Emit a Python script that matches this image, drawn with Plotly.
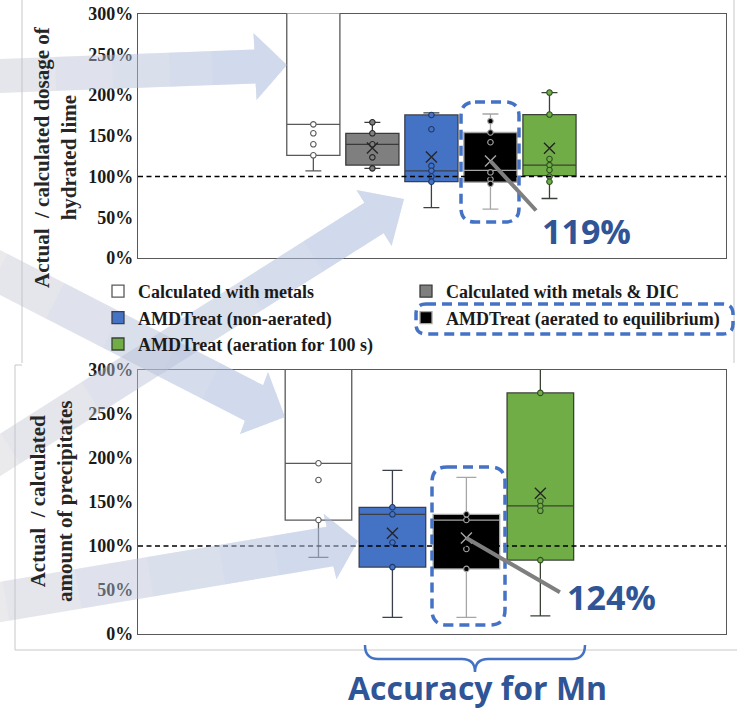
import math
import plotly.graph_objects as go

# ---------------------------------------------------------------- canvas
FIG_W, FIG_H = 737, 710
M_L, M_R = 138, 11
PLOT_W = FIG_W - M_L - M_R


def px(x):
    return (x - M_L) / PLOT_W


def py(y):
    return 1 - y / FIG_H


def pt(x, y):
    return f"{px(x):.5f},{py(y):.5f}"


# ---------------------------------------------------------------- data
series = [
    "Calculated with metals",
    "Calculated with metals & DIC",
    "AMDTreat (non-aerated)",
    "AMDTreat (aerated to equilibrium)",
    "AMDTreat (aeration for 100 s)",
]
fills = ["#ffffff", "#7f7f7f", "#4472c4", "#000000", "#70ad47"]
edges = ["#595959", "#3a3a3a", "#3a3f4a", "#a6a6a6", "#3a4236"]
point_edges = ["#595959", "#262626", "#1f3864", "#a6a6a6", "#2f4f22"]
mean_colors = ["#262626", "#262626", "#262626", "#a6a6a6", "#262626"]
legend_of = ["legend", "legend2", "legend", "legend2", "legend"]

# actual / calculated dosage of hydrated lime (%)
lime_q1 = [126, 114, 93.6, 93, 101]
lime_median = [164, 139.5, 107, 107.5, 114]
lime_q3 = [330, 153, 175.5, 154, 176]
lime_low = [107, 110, 61.7, 60, 73]
lime_high = [360, 166.5, 178, 176.7, 203]
lime_mean = [None, 135, 124, 119, 134.6]
lime_points = [
    [164, 153, 139.5, 126],
    [166.5, 153, 139.5, 123.5, 110],
    [175.5, 158, 113, 107, 100, 93.6],
    [168, 154, 142, 105, 96.5, 91],
    [203, 176, 121.5, 114, 108, 100, 93.6],
]

# actual / calculated amount of precipitates (%)
prec_series = [0, 2, 3, 4]
prec_q1 = [129.5, 76, 74, 84]
prec_median = [194, 136, 129.5, 145.5]
prec_q3 = [330, 144, 136, 274]
prec_low = [87, 19, 19, 20.5]
prec_high = [360, 186, 178, 340]
prec_mean = [None, 114.4, 109, 160]
prec_points = [
    [194, 175, 129.5],
    [144, 136, 104, 76],
    [136, 129.5, 96.6, 74],
    [274, 151, 145.5, 140, 84],
]

callout_values = [119, 124]
y_ticks = [0, 50, 100, 150, 200, 250, 300]
y_tick_text = [f"{v}%" for v in y_ticks]
reference_ratio = 100

SERIF = "Liberation Serif"
SANS = "Open Sans"
HILITE = "#2f5597"
DASHBLUE = "#4472c4"

fig = go.Figure()


def add_panel(idx_list, q1, med, q3, lo, hi, mean, points, xa, ya, legend):
    for pos, s in enumerate(idx_list):
        fig.add_trace(go.Box(
            x=[pos], q1=[q1[pos]], median=[med[pos]], q3=[q3[pos]],
            lowerfence=[lo[pos]], upperfence=[hi[pos]],
            width=0.9, whiskerwidth=0.3,
            fillcolor=fills[s], line=dict(color=edges[s], width=1.3),
            name=series[s], showlegend=legend,
            legend=legend_of[s], xaxis=xa, yaxis=ya, hoverinfo="skip",
        ))
    for pos, s in enumerate(idx_list):
        pts = points[pos]
        fig.add_trace(go.Scatter(
            x=[pos] * len(pts), y=pts, mode="markers",
            marker=dict(symbol="circle", size=5.5, color=fills[s],
                        line=dict(color=point_edges[s], width=1.1)),
            showlegend=False, xaxis=xa, yaxis=ya, hoverinfo="skip",
        ))
        if mean[pos] is not None:
            fig.add_trace(go.Scatter(
                x=[pos], y=[mean[pos]], mode="markers",
                marker=dict(symbol="x-thin", size=11,
                            line=dict(color=mean_colors[s], width=1.4)),
                showlegend=False, xaxis=xa, yaxis=ya, hoverinfo="skip",
            ))


add_panel(list(range(5)), lime_q1, lime_median, lime_q3, lime_low, lime_high,
          lime_mean, lime_points, "x", "y", True)
add_panel(prec_series, prec_q1, prec_median, prec_q3, prec_low, prec_high,
          prec_mean, prec_points, "x2", "y2", False)

frame = dict(showline=True, mirror=True, linecolor="#595959", linewidth=1.3,
             showgrid=False, zeroline=False, layer="below traces", automargin=False)
xcommon = dict(frame, showticklabels=False, ticks="")
ycommon = dict(frame, range=[0, 300], tickmode="array", tickvals=y_ticks,
               ticktext=y_tick_text, ticks="",
               tickfont=dict(family=SERIF, size=18, color="#1a1a1a", weight="bold"))

shapes = []
# 100 % reference lines
for xr, yr in (("x domain", "y"), ("x2 domain", "y2")):
    shapes.append(dict(type="line", xref=xr, yref=yr, x0=0, x1=1,
                       y0=reference_ratio, y1=reference_ratio, layer="above",
                       line=dict(color="#000000", width=1.3, dash="5px,3.5px")))

# thin outlines of the two figure panels
for (x0, y0, x1, y1) in [(22, 0, 22, 363), (734, 0, 734, 363),
                         (15, 365, 15, 650), (15, 365, 22, 365), (15, 650, 737, 650)]:
    shapes.append(dict(type="line", xref="paper", yref="paper",
                       x0=px(x0), y0=py(y0), x1=px(x1), y1=py(y1),
                       line=dict(color="#c8c8c8", width=1), layer="below"))


# translucent guide arrows, built up in layers so they fade towards the tail
def arrow_shapes(tail, base, tip, half, head_half):
    dx, dy = base[0] - tail[0], base[1] - tail[1]
    length = math.hypot(dx, dy)
    nx, ny = -dy / length, dx / length
    hx, hy = tip[0] - base[0], tip[1] - base[1]
    hl = math.hypot(hx, hy)
    hnx, hny = -hy / hl, hx / hl
    out = []
    layers = [(0.0, "rgba(196,196,202,0.36)")] + \
             [(t, "rgba(155,182,236,0.075)") for t in (0.1, 0.3, 0.5, 0.7, 0.85)]
    for t, col in layers:
        sx, sy = tail[0] + dx * t, tail[1] + dy * t
        poly = [
            (sx + nx * half, sy + ny * half),
            (base[0] + nx * half, base[1] + ny * half),
            (base[0] + hnx * head_half, base[1] + hny * head_half),
            tip,
            (base[0] - hnx * head_half, base[1] - hny * head_half),
            (base[0] - nx * half, base[1] - ny * half),
            (sx - nx * half, sy - ny * half),
        ]
        path = "M" + " L".join(pt(*p) for p in poly) + " Z"
        out.append(dict(type="path", xref="paper", yref="paper", path=path,
                        fillcolor=col, line=dict(width=0), layer="above"))
    return out


shapes += arrow_shapes((-30, 77), (255, 66.5), (287, 65), 17, 33.5)
shapes += arrow_shapes((-30, 257), (254, 403), (285, 417), 20, 34)
shapes += arrow_shapes((-30, 474), (374, 218), (404, 199), 18, 33)
shapes += arrow_shapes((-30, 607), (330, 546.5), (358, 541), 20, 33.5)


def rounded_rect(x0, y0, x1, y1, r):
    return ("M" + pt(x0 + r, y0) + " L" + pt(x1 - r, y0) +
            " Q" + pt(x1, y0) + " " + pt(x1, y0 + r) +
            " L" + pt(x1, y1 - r) +
            " Q" + pt(x1, y1) + " " + pt(x1 - r, y1) +
            " L" + pt(x0 + r, y1) +
            " Q" + pt(x0, y1) + " " + pt(x0, y1 - r) +
            " L" + pt(x0, y0 + r) +
            " Q" + pt(x0, y0) + " " + pt(x0 + r, y0) + " Z")


for rect in [(461, 102, 519, 222, 14), (432, 467, 505, 625, 15), (416, 304, 733, 334, 10)]:
    shapes.append(dict(type="path", xref="paper", yref="paper",
                       path=rounded_rect(*rect), layer="above",
                       line=dict(color=DASHBLUE, width=3.5, dash="10px,6px")))

# curly bracket under the lower panel
brace = ("M" + pt(365, 645) + " Q" + pt(365, 659) + " " + pt(378, 659) +
         " L" + pt(462, 659) + " Q" + pt(475, 659) + " " + pt(475, 672) +
         " Q" + pt(475, 659) + " " + pt(488, 659) + " L" + pt(572, 659) +
         " Q" + pt(585, 659) + " " + pt(585, 645))
shapes.append(dict(type="path", xref="paper", yref="paper", path=brace,
                   line=dict(color=DASHBLUE, width=2.5), layer="above"))

annotations = []
title_font = dict(family=SERIF, size=21, color="#262626", weight="bold")
annotations.append(dict(xref="paper", yref="paper", x=px(55), y=py(157),
                        xanchor="center", yanchor="middle",
                        text="Actual\u00a0 / calculated dosage of<br>hydrated lime",
                        textangle=-90, showarrow=False, font=title_font))
annotations.append(dict(xref="paper", yref="paper", x=px(52), y=py(502),
                        xanchor="center", yanchor="middle",
                        text="Actual\u00a0 / calculated<br>amount of precipitates",
                        textangle=-90, showarrow=False, font=title_font))

# call-outs on the mean of the equilibrium series
black_top = 3
black_bot = prec_series.index(3)
for (xa, ya, pos, mean_y, val, ax, ay, xs, ys) in [
    ("x", "y", black_top, lime_mean[3], callout_values[0], 47, 51, 96, -70),
    ("x2", "y2", black_bot, prec_mean[black_bot], callout_values[1], 95, 55, 145, -59),
]:
    annotations.append(dict(xref=xa, yref=ya, x=pos, y=mean_y, text="",
                            showarrow=True, arrowhead=0, arrowwidth=4,
                            arrowcolor="#7f7f7f", ax=ax, ay=ay, standoff=0))
    annotations.append(dict(xref=xa, yref=ya, x=pos, y=mean_y, text=f"{val}%",
                            xanchor="center", yanchor="middle",
                            showarrow=False, xshift=xs, yshift=ys,
                            font=dict(family=SANS, size=34, color=HILITE, weight="bold")))

annotations.append(dict(xref="paper", yref="paper", x=px(477), y=py(687),
                        xanchor="center", yanchor="middle",
                        text="Accuracy for Mn", showarrow=False,
                        font=dict(family=SANS, size=32, color=HILITE, weight="bold")))

legend_font = dict(family=SERIF, size=18, color="#1a1a1a", weight="bold")
fig.update_layout(
    width=FIG_W, height=FIG_H,
    margin=dict(l=M_L, r=M_R, t=0, b=0, autoexpand=False),
    paper_bgcolor="#ffffff", plot_bgcolor="#ffffff",
    xaxis=dict(xcommon, domain=[0, 1], anchor="y", range=[-2.97, 6.99]),
    yaxis=dict(ycommon, domain=[py(258), py(13.5)], anchor="x"),
    xaxis2=dict(xcommon, domain=[0, 1], anchor="y2", range=[-2.44, 5.51]),
    yaxis2=dict(ycommon, domain=[py(634), py(370)], anchor="x2"),
    legend=dict(x=px(98), y=py(273), xanchor="left", yanchor="top",
                orientation="v", bgcolor="rgba(0,0,0,0)", font=legend_font,
                tracegroupgap=0, itemwidth=30),
    legend2=dict(x=px(406), y=py(273), xanchor="left", yanchor="top",
                 orientation="v", bgcolor="rgba(0,0,0,0)", font=legend_font,
                 tracegroupgap=0, itemwidth=30),
    shapes=shapes,
    annotations=annotations,
    showlegend=True,
)

fig.write_html("out.html")
